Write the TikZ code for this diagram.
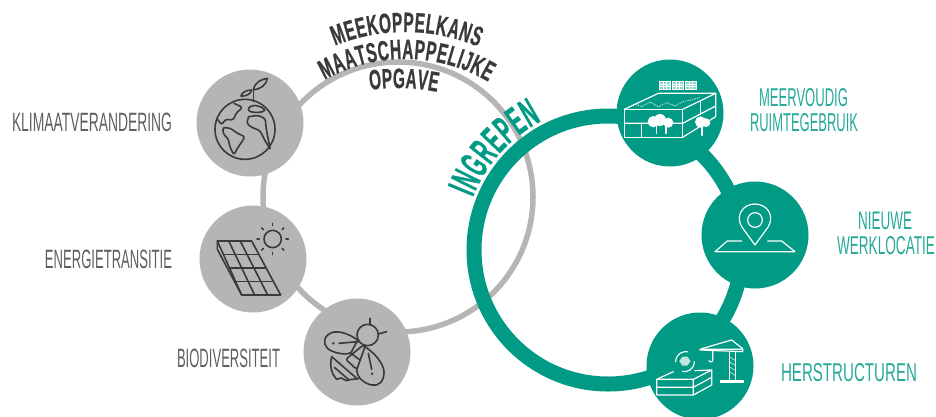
\documentclass[tikz,border=0pt]{standalone}
\usepackage{fontspec}
\usepackage{graphicx}
\setmainfont{Liberation Sans}
\newfontfamily\arcfam[FakeStretch=0.55,FakeBold=0.6]{Liberation Sans Bold}
\newfontfamily\ingfam[FakeStretch=0.47,FakeBold=0.6]{Liberation Sans Bold}
\usetikzlibrary{decorations.text}
\definecolor{grayring}{HTML}{B5B5B5}
\definecolor{tealc}{HTML}{009A85}
\definecolor{darkt}{HTML}{3A3A3A}
\definecolor{greyt}{HTML}{5F5F5F}
\newcommand\fitlbl[3]{\resizebox{#1pt}{#2pt}{#3}}
\newcommand\arcf{\arcfam\fontsize{28}{28}\selectfont}
\newcommand\ingf{\ingfam\fontsize{40}{40}\selectfont}
\tikzset{
  greynode/.style={circle,fill=grayring,minimum size=107pt,inner sep=0pt},
  tealnode/.style={circle,fill=tealc,minimum size=107pt,inner sep=0pt},
  grey label/.style={text=greyt,inner sep=0pt},
  teal label/.style={text=tealc!85!white,inner sep=0pt},
  zoomed/.style={x=.3333pt,y=-.3333pt},
  darkicon/.style={draw=darkt,line width=1.6pt,line join=round,line cap=round},
  whiteicon/.style={draw=white,line width=1.2pt,line join=round,line cap=round},
}
\begin{document}
\begin{tikzpicture}[x=1pt,y=-1pt]
\useasboundingbox (0,0) rectangle (936,416);
\clip (0,0) rectangle (936,416);
% rings
\node[circle,draw=grayring,line width=5.5pt,minimum size=270pt,inner sep=0pt] (grayloop) at (398,197) {};
\node[greynode] (globe) at (250,123) {};
\node[greynode] (solar) at (253,259) {};
\node[greynode] (bee) at (357,352) {};
\node[circle,draw=tealc,line width=15pt,minimum size=268pt,inner sep=0pt] (tealloop) at (608,250) {};
\node[tealnode] (building) at (670,113) {};
\node[tealnode] (pin) at (755,235) {};
\node[tealnode] (crane) at (700,366) {};
% arc texts
\path[decorate,decoration={text along path,text color=darkt,text align={fit to path},text={|\arcf|MEEKOPPELKANS}}]
  ({405+187*cos(112)},{219-187*sin(112)}) arc[start angle=112,end angle=67,radius=187pt];
\path[decorate,decoration={text along path,text color=darkt,text align={fit to path},text={|\arcf|MAATSCHAPPELIJKE}}]
  ({405+164*cos(119.3)},{223-164*sin(119.3)}) arc[start angle=119.3,end angle=59.5,radius=164pt];
\path[decorate,decoration={text along path,text color=darkt,text align={fit to path},text={|\arcf|OPGAVE}}]
  ({398+200*cos(98)},{288-200*sin(98)}) arc[start angle=98,end angle=78.7,radius=200pt];
\path[decorate,decoration={text along path,text color=tealc,text align={fit to path},text={|\ingf|INGREPEN}}]
  ({608+145*cos(158.7)},{250-145*sin(158.7)}) arc[start angle=158.7,end angle=117.3,radius=145pt];
% labels
\node[grey label] (l1) at (92,122.5) {\fitlbl{160}{18.5}{KLIMAATVERANDERING}};
\node[grey label] (l2) at (108.5,259.5) {\fitlbl{127}{18.5}{ENERGIETRANSITIE}};
\node[grey label] (l3) at (228.5,358) {\fitlbl{103}{18.5}{BIODIVERSITEIT}};
\node[teal label] (r1) at (803.5,98) {\fitlbl{89}{18}{MEERVOUDIG}};
\node[teal label] (r2) at (804,122.5) {\fitlbl{108}{18}{RUIMTEGEBRUIK}};
\node[teal label] (r3) at (885,221) {\fitlbl{54}{17.5}{NIEUWE}};
\node[teal label] (r4) at (886,246) {\fitlbl{98}{18}{WERKLOCATIE}};
\node[teal label] (r5) at (849,373) {\fitlbl{136}{18}{HERSTRUCTUREN}};
% globe icon
\begin{scope}[shift={(210,70)},zoomed]
\draw[darkicon] (105,178) circle (90);
\draw[darkicon] (130,95) -- (130,62);
\draw[darkicon] (130,60) .. controls (135,35) and (155,28) .. (172,25) .. controls (170,45) and (150,58) .. (130,60);
\draw[darkicon] (125,60) .. controls (108,60) and (95,68) .. (93,78) .. controls (108,80) and (122,72) .. (125,60);
\draw[darkicon,rounded corners=2.5pt] (72,100) -- (98,112) -- (78,130) -- (70,150) -- (45,148) -- (36,165) -- (22,148);
\draw[darkicon,rounded corners=2.5pt] (38,172) -- (62,175) -- (82,190) -- (105,200) -- (96,215) -- (82,235) -- (72,255) -- (60,232) -- (55,207) -- (40,192) -- cycle;
\draw[darkicon,rounded corners=2.5pt] (115,112) -- (135,105) -- (162,115) -- (165,124) -- (140,128) -- (115,124) -- cycle;
\draw[darkicon,rounded corners=2.5pt] (116,140) -- (145,136) -- (166,146) -- (168,172) -- (180,236);
\draw[darkicon,rounded corners=2.5pt] (180,236) -- (165,212) -- (150,182) -- (125,172) -- (110,160) -- (116,140);
\end{scope}
% solar icon
\begin{scope}[shift={(190,200)},zoomed]
\draw[darkicon] (82,123) -- (185,123) -- (272,285) -- (155,285) -- cycle;
\draw[darkicon] (82,123) -- (82,148) -- (155,285);
\foreach \t in {.25,.5,.75}{
  \draw[darkicon] ({82+73*\t},{123+162*\t}) -- ({185+87*\t},{123+162*\t});
}
\foreach \s in {.333,.667}{
  \draw[darkicon] ({82+103*\s},123) -- ({155+117*\s},285);
}
\draw[darkicon] (248,117) circle (26);
\foreach \a in {0,45,...,315}{
  \draw[darkicon] ({248+40*cos(\a)},{117+40*sin(\a)}) -- ({248+47*cos(\a)},{117+47*sin(\a)});
}
\end{scope}
% bee icon
\begin{scope}[shift={(315,310)},zoomed]
\draw[darkicon] (158,75) circle (32);
\draw[darkicon] (165,44) -- (165,25);
\draw[darkicon] (190,72) -- (215,65);
\draw[darkicon,rounded corners=2.5pt] (145,105) -- (92,148) -- (125,178) -- (165,125) -- cycle;
\draw[darkicon] (50,140) .. controls (42,170) and (52,195) .. (65,208) -- (78,204) -- (95,212) .. controls (110,205) and (122,210) .. (132,205);
\draw[darkicon] (50,140) -- (125,205);
\draw[darkicon] (58,172) -- (100,208);
\draw[darkicon] (108,130) -- (135,150);
\draw[darkicon,fill=grayring] (128,90) .. controls (100,70) and (60,55) .. (38,75) .. controls (20,92) and (30,115) .. (50,123) .. controls (70,132) and (95,135) .. (108,128) -- cycle;
\draw[darkicon] (72,100) -- (130,95);
\fill[darkt] (55,100) circle (4);
\draw[darkicon,fill=grayring] (150,110) .. controls (180,130) and (205,160) .. (207,185) .. controls (208,215) and (190,230) .. (170,225) .. controls (145,220) and (125,200) .. (125,180) -- cycle;
\draw[darkicon] (160,130) -- (170,178);
\fill[darkt] (171,191) circle (4);
\end{scope}
% building icon
\begin{scope}[shift={(600,50)},zoomed]
\draw[whiteicon] (73,178) rectangle (248,262);
\draw[whiteicon] (73,178) -- (175,130) -- (347,130) -- (248,178);
\draw[whiteicon] (347,130) -- (347,200) -- (248,262);
\draw[whiteicon] (73,220) -- (248,220) -- (347,168);
\draw[whiteicon] (125,220) -- (125,262);
\draw[whiteicon] (302,155) -- (302,190);
\draw[white,line width=.8pt,densely dotted] (85,172) -- (105,162) -- (125,170) -- (150,156) -- (175,170) -- (200,158) -- (225,168) -- (250,154) -- (275,150) -- (300,142);
\fill[white] (160,215) circle (17) (180,210) circle (18) (205,218) circle (15);
\draw[whiteicon] (170,225) -- (170,250) (198,228) -- (198,250);
\fill[white] (302,216) circle (17) (318,218) circle (13);
\draw[whiteicon] (306,228) -- (306,256);
\foreach \px in {178,218,257}{
  \fill[white,opacity=.55] (\px,95) rectangle ++(32,23);
  \draw[white,line width=.6pt] (\px,95) rectangle ++(32,23) (\px+10.5,95) -- ++(0,23) (\px+21,95) -- ++(0,23) (\px,103) -- ++(32,0) (\px,110) -- ++(32,0);
}
\end{scope}
% pin icon
\begin{scope}[shift={(700,180)},zoomed]
\draw[whiteicon] (165,120) circle (22);
\draw[whiteicon] (165,195) -- (125,140) .. controls (105,105) and (130,72) .. (165,72) .. controls (200,72) and (225,105) .. (205,140) -- cycle;
\draw[whiteicon] (125,183) -- (82,183) -- (45,215) -- (285,215) -- (245,183) -- (203,183);
\end{scope}
% crane icon
\begin{scope}[shift={(630,300)},zoomed]
\draw[whiteicon] (80,238) -- (130,215);
\draw[whiteicon] (195,212) -- (245,210) -- (190,238) -- (80,238) -- (80,285) -- (190,285) -- (190,238);
\draw[whiteicon] (80,262) -- (190,262) -- (245,232);
\draw[whiteicon] (190,285) -- (245,255) -- (245,210);
\draw[whiteicon] (210,148) -- (338,148) -- (338,155) -- (210,150);
\draw[whiteicon] (215,146) -- (305,120) -- (338,146);
\draw[whiteicon] (298,155) -- (298,238) (316,155) -- (316,238);
\foreach \yy in {170,185,200,215}{ \draw[whiteicon,line width=.5pt] (298,\yy) -- (316,\yy+12); }
\draw[whiteicon] (272,243) rectangle (340,248);
\draw[whiteicon] (248,150) -- (248,180) (248,180) arc[start angle=0,end angle=-160,radius=2pt];
\draw[whiteicon] (137,185) arc[start angle=180,end angle=80,radius=10pt];
\draw[whiteicon] (193,185) arc[start angle=0,end angle=-100,radius=10pt];
\fill[white,opacity=.75] (148,183) -- (157,170) -- (172,170) -- (182,183) -- (172,197) -- (157,197) -- cycle;
\end{scope}
\end{tikzpicture}
\end{document}
